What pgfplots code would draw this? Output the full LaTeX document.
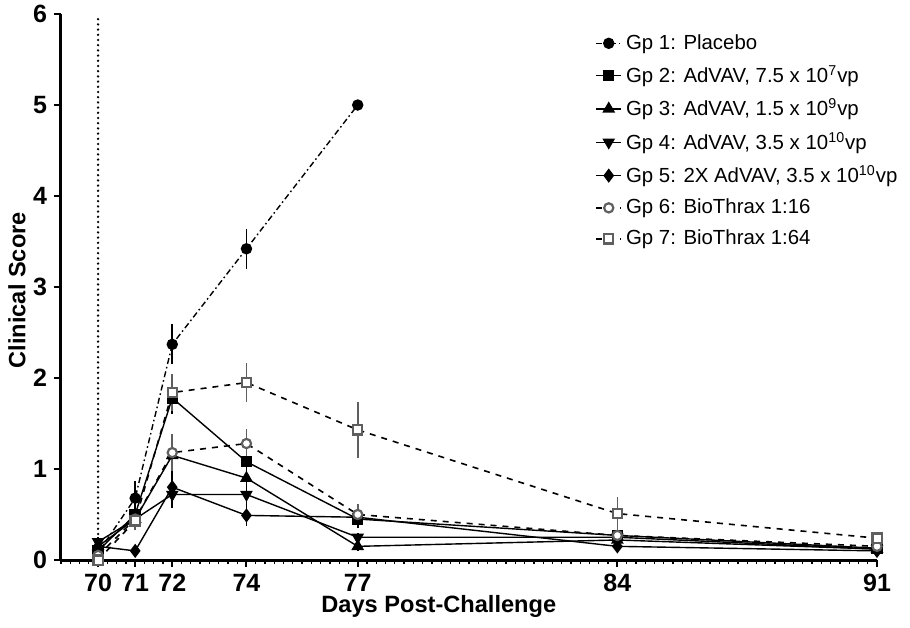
\documentclass[border=0pt]{standalone}
\usepackage{pgfplots}
\pgfplotsset{compat=1.18}
\usepackage{fontspec}
\setmainfont{Liberation Sans}
\usetikzlibrary{plotmarks}
\definecolor{mgray}{RGB}{95,95,95}
\begin{document}
\begin{tikzpicture}[x=1pt,y=1pt]
\useasboundingbox (-30.5,-33.5) rectangle (424.5,280);
\begin{axis}[
  at={(0,0)}, anchor=south west, scale only axis,
  width=408pt, height=273pt,
  xmin=69, xmax=91, ymin=0, ymax=6,
  axis lines=left,
  axis line style={-, line width=1.5pt},
  xtick={70,71,72,74,77,84,91},
  minor xtick={69,69.25,...,91},
  ytick={0,1,2,3,4,5,6},
  tick align=outside,
  major tick length=3.5pt,
  minor tick length=2pt,
  every tick/.style={black, line width=1pt},
  minor tick style={black, line width=0.6pt},
  tick label style={font=\bfseries\fontsize{12.5}{14}\selectfont},
  /pgf/number format/assume math mode=true,
  xlabel={Days Post-Challenge},
  ylabel={Clinical Score},
  label style={font=\bfseries\fontsize{11.8}{13}\selectfont},
  xlabel style={at={(axis description cs:0.463,-0.0842)}, anchor=center},
  ylabel style={at={(axis description cs:-0.054,0.494)}, anchor=center},
  legend style={at={(axis description cs:0.652,0.978)}, anchor=north west, draw=none, fill=none,
    font=\fontsize{10.2}{11.5}\selectfont, row sep=2.6pt, inner xsep=1pt},
  legend cell align=left,
  legend image code/.code={\draw[mark repeat=2,mark phase=2] plot coordinates {(0cm,0cm) (0.22cm,0cm) (0.44cm,0cm)};},
  error bars/error mark=none,
  error bars/error bar style={solid, line width=0.8pt},
  clip=false,
]
\addplot[black, line width=1.3pt, line cap=round, dash pattern=on 0pt off 2.6pt, forget plot] coordinates {(70,0) (70,6)};

% Gp1
\addplot[black, line width=0.7pt, dash pattern=on 3pt off 1.5pt on 0.8pt off 1.5pt, mark=*, mark size=2.5pt, mark options={solid},
  error bars/.cd, y dir=both, y explicit]
  table[x=x, y=y, y error=e] {
x y e
70 0.08 0
71 0.68 0.19
72 2.37 0.22
74 3.42 0.22
77 5.00 0
};
\addlegendentry{Gp 1: Placebo}
% Gp2
\addplot[black, line width=0.7pt, mark=square*, mark size=2.5pt, mark options={solid},
  error bars/.cd, y dir=both, y explicit]
  table[x=x, y=y, y error=e] {
x y e
70 0.10 0.05
71 0.50 0.10
72 1.78 0.18
74 1.08 0.20
77 0.45 0.10
84 0.27 0.06
91 0.13 0.03
};
\addlegendentry{Gp 2: AdVAV, 7.5 x 10\textsuperscript{7}vp}
% Gp3
\addplot[black, line width=0.7pt, mark=triangle*, mark size=3pt, mark options={solid},
  error bars/.cd, y dir=both, y explicit]
  table[x=x, y=y, y error=e] {
x y e
70 0.15 0.05
71 0.45 0.10
72 1.15 0.20
74 0.90 0.15
77 0.15 0.05
84 0.22 0.05
91 0.12 0.03
};
\addlegendentry{Gp 3: AdVAV, 1.5 x 10\textsuperscript{9}vp}
% Gp4
\addplot[black, line width=0.7pt, mark=triangle*, mark size=3pt, mark options={solid, rotate=180},
  error bars/.cd, y dir=both, y explicit]
  table[x=x, y=y, y error=e] {
x y e
70 0.20 0.05
71 0.45 0.10
72 0.72 0.15
74 0.72 0.15
77 0.25 0.05
84 0.25 0.05
91 0.12 0.03
};
\addlegendentry{Gp 4: AdVAV, 3.5 x 10\textsuperscript{10}vp}
% Gp5
\addplot[black, line width=0.7pt, mark=diamond*, mark size=3pt, mark options={solid},
  error bars/.cd, y dir=both, y explicit]
  table[x=x, y=y, y error=e] {
x y e
70 0.15 0.05
71 0.10 0.03
72 0.80 0.15
74 0.49 0.12
77 0.47 0.08
84 0.15 0.05
91 0.10 0.03
};
\addlegendentry{Gp 5: 2X AdVAV, 3.5 x 10\textsuperscript{10}vp}
% Gp6
\addplot[black, line width=0.8pt, dashed, mark=*, mark size=2.3pt, mark options={solid, fill=white, draw=mgray, line width=1.1pt},
  error bars/.cd, y dir=both, y explicit, error bar style={mgray}]
  table[x=x, y=y, y error=e] {
x y e
70 0.05 0.03
71 0.45 0.10
72 1.18 0.20
74 1.28 0.16
77 0.50 0.12
84 0.27 0.05
91 0.15 0.03
};
\addlegendentry{Gp 6: BioThrax 1:16}
% Gp7
\addplot[black, line width=0.8pt, dashed, mark=square*, mark size=2.3pt, mark options={solid, fill=white, draw=mgray, line width=1.1pt},
  error bars/.cd, y dir=both, y explicit, error bar style={mgray}]
  table[x=x, y=y, y error=e] {
x y e
70 0.00 0.02
71 0.43 0.10
72 1.84 0.20
74 1.95 0.21
77 1.43 0.31
84 0.51 0.18
91 0.24 0.07
};
\addlegendentry{Gp 7: BioThrax 1:64}
\end{axis}
\end{tikzpicture}
\end{document}
